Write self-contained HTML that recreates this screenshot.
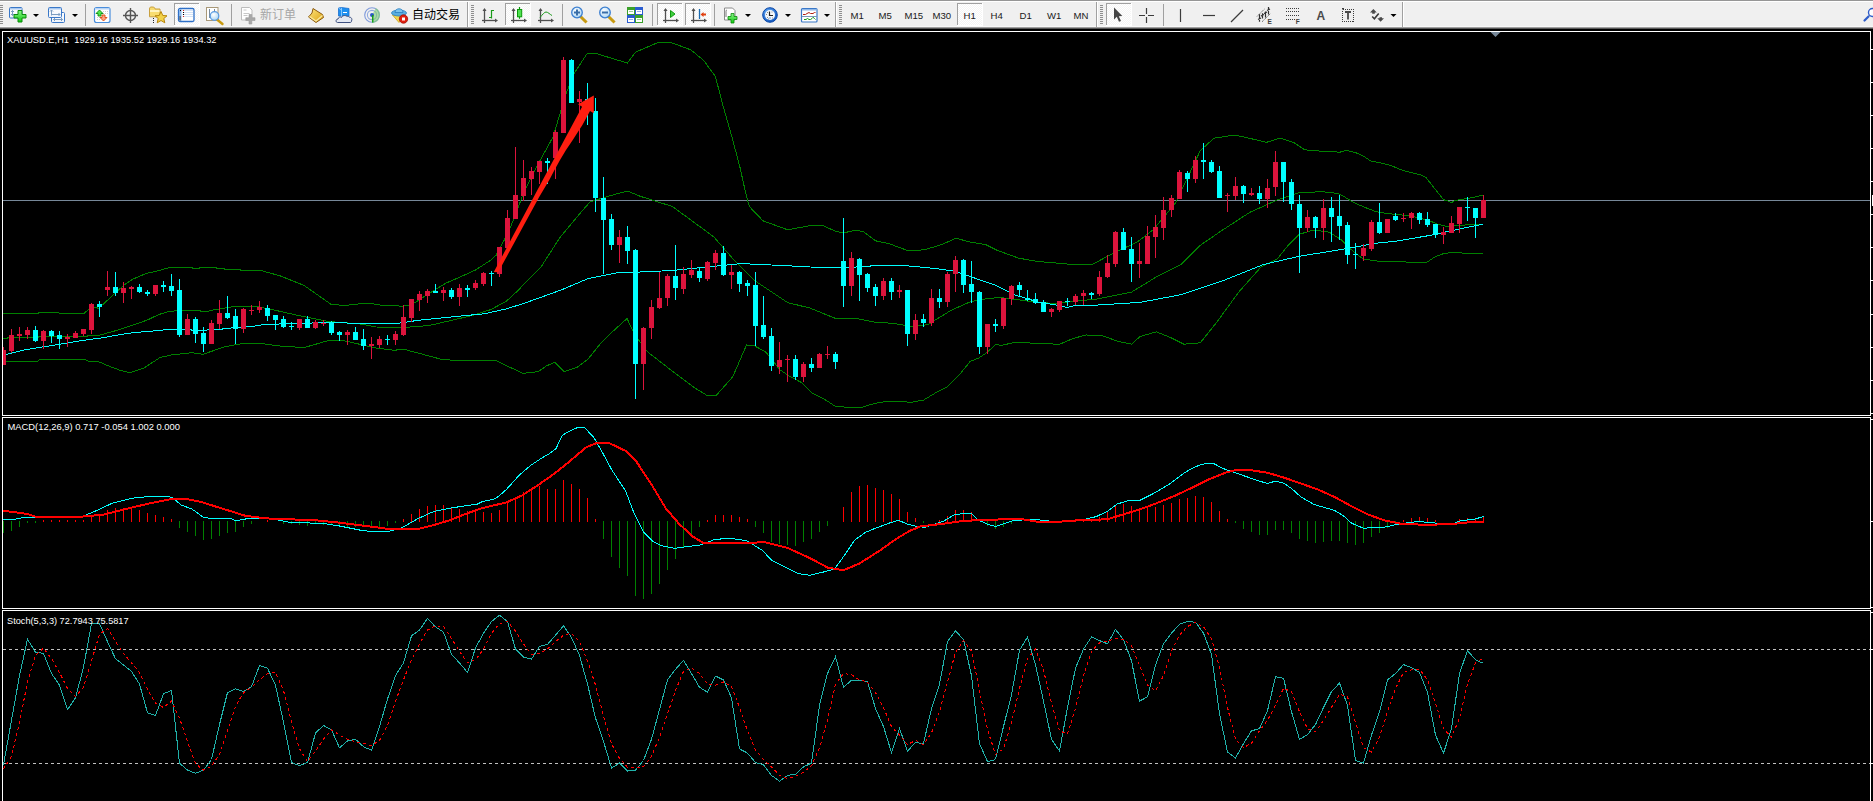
<!DOCTYPE html>
<html><head><meta charset="utf-8"><title>MT4</title>
<style>
html,body{margin:0;padding:0;background:#000;width:1873px;height:801px;overflow:hidden;position:relative}
#tb{position:absolute;left:0;top:0;width:1873px;height:29px;background:#F0F0F0;overflow:hidden}
</style></head><body>
<div id="tb"><svg width="1873" height="29" viewBox="0 0 1873 29" style="display:block">
<defs><pattern id="chk" width="2" height="2" patternUnits="userSpaceOnUse"><rect width="2" height="2" fill="#F4F4F4"/><rect width="1" height="1" fill="#FFFFFF"/><rect x="1" y="1" width="1" height="1" fill="#FFFFFF"/></pattern><linearGradient id="gplus" x1="0" y1="0" x2="0" y2="1"><stop offset="0" stop-color="#8BF58B"/><stop offset="1" stop-color="#10C810"/></linearGradient><linearGradient id="gwin" x1="0" y1="0" x2="0" y2="1"><stop offset="0" stop-color="#FFFFFF"/><stop offset="1" stop-color="#EEF3FA"/></linearGradient><linearGradient id="ggold" x1="0" y1="0" x2="1" y2="1"><stop offset="0" stop-color="#FFE680"/><stop offset="1" stop-color="#D9A010"/></linearGradient><radialGradient id="glens" cx="0.4" cy="0.35" r="0.7"><stop offset="0" stop-color="#FFFFFF"/><stop offset="1" stop-color="#A8D4F4"/></radialGradient><radialGradient id="gclock" cx="0.4" cy="0.35" r="0.7"><stop offset="0" stop-color="#6FB6FF"/><stop offset="1" stop-color="#0B4FB8"/></radialGradient></defs>
<rect width="1873" height="29" fill="#F0F0F0"/>
<rect y="0" width="1873" height="1" fill="#969696"/>
<rect y="1" width="1873" height="1" fill="#FFFFFF"/>
<rect y="26" width="1873" height="1" fill="#F8F8F8"/>
<rect y="27" width="1873" height="1" fill="#A0A0A0"/>
<rect y="28" width="1873" height="1" fill="#585858"/>
<rect x="0" y="5" width="3" height="1" fill="#8E8E8E"/>
<rect x="0" y="7" width="3" height="1" fill="#8E8E8E"/>
<rect x="0" y="9" width="3" height="1" fill="#8E8E8E"/>
<rect x="0" y="11" width="3" height="1" fill="#8E8E8E"/>
<rect x="0" y="13" width="3" height="1" fill="#8E8E8E"/>
<rect x="0" y="15" width="3" height="1" fill="#8E8E8E"/>
<rect x="0" y="17" width="3" height="1" fill="#8E8E8E"/>
<rect x="0" y="19" width="3" height="1" fill="#8E8E8E"/>
<rect x="0" y="21" width="3" height="1" fill="#8E8E8E"/>
<rect x="0" y="23" width="3" height="1" fill="#8E8E8E"/>
<rect x="9.5" y="7.5" width="12.5" height="10.5" rx="1" fill="url(#gwin)" stroke="#3A78C8" stroke-width="1"/>
<rect x="10" y="8" width="11.5" height="1.5" fill="#A8C8F0"/>
<path d="M12.5,10.5 V15.5 M11,12 L12.5,10.5 L14,12 M11,14 L12.5,15.5 L14,14" stroke="#7A9CC0" stroke-width="1" fill="none"/>
<path d="M18,10.5 h4 v4 h4 v3.5 h-4 v4 h-4 v-4 h-4 v-3.5 h4 z" fill="url(#gplus)" stroke="#0A8A0A" stroke-width="1"/>
<polygon points="33,14 39,14 36,17" fill="#000"/>
<rect x="51.5" y="12.5" width="13" height="10" rx="1" fill="url(#gwin)" stroke="#3A78C8"/>
<path d="M53.5,19.5 H62.5 M55,18 L53.5,19.5 L55,21 M61,18 L62.5,19.5 L61,21" stroke="#7A9CC0" fill="none"/>
<rect x="48.5" y="7.5" width="13" height="10" rx="1" fill="url(#gwin)" stroke="#3A78C8"/>
<rect x="49" y="8" width="12" height="1.5" fill="#A8C8F0"/>
<path d="M51.5,10 V15.5 M50,11.5 L51.5,10 L53,11.5 M51.5,14.5 H60 M58.5,13 L60,14.5 L58.5,16" stroke="#7A9CC0" fill="none"/>
<polygon points="72,14 78,14 75,17" fill="#000"/>
<rect x="85" y="4" width="1" height="22" fill="#A0A0A0"/>
<rect x="94.5" y="7.5" width="15.5" height="15" rx="2" fill="#FFFFFF" stroke="#4A8EDC" stroke-width="1.2"/>
<rect x="95" y="8" width="14.5" height="1.5" fill="#B8D4F4"/>
<path d="M103,11.5 H108 M103,13.5 H108 M97,17.5 H101 M97,19.5 H101" stroke="#D0D0D0" stroke-dasharray="1,1"/>
<path d="M99.5,10 L103,13.5 H101 V16 H98 V13.5 H96 Z" fill="#50E850" stroke="#0C8A0C" stroke-width="0.9"/>
<path d="M103.5,21 L107,17.5 H105 V15 H102 V17.5 H100 Z" fill="#FFA080" stroke="#D84A10" stroke-width="0.9"/>
<g stroke="#555" stroke-width="1.4" fill="none"><circle cx="130.5" cy="15.5" r="5"/><path d="M123,15.5 H138 M130.5,8 V23"/></g>
<path d="M149.5,9 C149.5,7 150.5,7 152,7 C154,7 155,7.5 155,9 h5 v7.8 h-10.5 z" fill="#F8DC70" stroke="#C8A040" stroke-width="1"/><rect x="150" y="10" width="9.5" height="2" fill="#FFF4C0"/>
<rect x="153" y="18" width="1" height="1" fill="#222"/><rect x="153" y="20" width="1" height="1" fill="#222"/><rect x="153" y="22" width="1" height="1" fill="#222"/>
<path d="M161,11.5 L162.8,15.5 L167,15.8 L163.8,18.5 L164.8,22.8 L161,20.5 L157.2,22.8 L158.2,18.5 L155,15.8 L159.2,15.5 Z" fill="#F2D24A" stroke="#B8860B" stroke-width="1"/>
<rect x="174" y="3" width="25" height="22" fill="url(#chk)"/>
<rect x="174" y="3" width="25" height="1" fill="#A0A0A0"/>
<rect x="174" y="3" width="1" height="22" fill="#A0A0A0"/>
<rect x="174" y="25" width="26" height="1" fill="#FFFFFF"/>
<rect x="199" y="3" width="1" height="22" fill="#FFFFFF"/>
<rect x="178.5" y="8.5" width="15.5" height="13" rx="1.5" fill="#FFFFFF" stroke="#2E70C8" stroke-width="1.3"/>
<rect x="179" y="9" width="2.5" height="12" fill="#8CB8EC"/><rect x="179.5" y="16" width="1.2" height="4.5" fill="#505050"/>
<path d="M182.5,10.5 H193 M182.5,12.5 H193 M182.5,14.5 H193 M182.5,16.5 H193" stroke="#C8DAF4" stroke-width="0.8"/>
<rect x="183" y="10" width="1" height="1" fill="#E02020"/><rect x="180" y="10" width="1" height="1" fill="#000"/><rect x="183" y="12" width="1" height="1" fill="#000"/><rect x="183" y="14" width="1" height="1" fill="#000"/><rect x="183" y="16" width="1" height="1" fill="#E02020"/>
<rect x="206.5" y="7.5" width="11.5" height="13" fill="#FFFFFF" stroke="#A89878" stroke-width="1"/>
<path d="M209.5,9 V18 M214.5,9 V12" stroke="#7A8A9A" stroke-width="1"/>
<path d="M217,19.5 L222.5,24" stroke="#C89A10" stroke-width="2.4" stroke-linecap="round"/>
<circle cx="214.5" cy="16" r="4.3" fill="url(#glens)" stroke="#5A9AE0" stroke-width="1.2"/>
<rect x="231" y="4" width="1" height="22" fill="#A0A0A0"/>
<path d="M241.5,7.5 h8 l2.5,2.5 v10 h-10.5 z" fill="#FFFFFF" stroke="#BDBDBD" stroke-width="1"/>
<path d="M243.5,10 h3 M243.5,13.5 h6 M243.5,15.5 h4" stroke="#C8C8C8" stroke-width="1"/>
<path d="M249,14.5 h2.8 v3.2 h3.2 v2.8 h-3.2 v3.5 h-2.8 v-3.5 h-3.2 v-2.8 h3.2 z" fill="#A8A8A8" stroke="#9A9A9A" stroke-width="0.6"/>
<text x="260" y="18.5" font-family="Liberation Sans, Noto Sans CJK SC, sans-serif" font-size="12" fill="#A6A6A6">新订单</text>
<path d="M313,8.5 L322.5,14.5 L323.5,17.5 L316,22.5 L308.5,17 L312,13 Z" fill="url(#ggold)" stroke="#8B5A10" stroke-width="1"/>
<path d="M309.5,16.5 L316,21 L322.5,15.5" stroke="#F8E8A0" stroke-width="1.2" fill="none"/>
<path d="M338.5,8 L341.5,7.5 L349,8.5 V16 H338.5 Z" fill="#1E90F0" stroke="#1A70D0" stroke-width="0.8"/><path d="M341.5,8 V16 M338.5,8 L341.5,10" stroke="#A0D4FF" stroke-width="0.8"/>
<path d="M343,12.5 h4" stroke="#FFFFFF" stroke-width="1"/>
<path d="M337.5,22.5 C335.5,22.5 335.5,19 338,19 C338.5,17 340.5,16.5 341.5,17.5 C342,15.5 345.5,14.8 347,16.5 C347.5,16.3 348.5,16.2 349,17 C351.5,16.8 352.5,19.5 351.5,21 C351.5,22 351,22.5 350,22.5 Z" fill="#E4E9F2" stroke="#3E5080" stroke-width="1"/>
<g fill="none" stroke-width="1.1"><circle cx="372" cy="15" r="7.3" stroke="#5A7ED4" opacity="0.75"/><circle cx="372" cy="15" r="4.6" stroke="#6A8CD8" opacity="0.7"/></g>
<path d="M372,15 L376,8.1 A8,8 0 0 1 372,23 Z" fill="#7CCB74" opacity="0.6"/>
<circle cx="372" cy="15" r="2" fill="#2A58C8"/>
<path d="M372.7,15 V22.5" stroke="#18A018" stroke-width="1.5" fill="none"/>
<path d="M392.5,15 L399,22.5 L405,15 Z" fill="#F4D84C" stroke="#C8A020" stroke-width="0.8"/>
<ellipse cx="399" cy="13" rx="7.5" ry="3" fill="#5AAEE0" stroke="#2A7EC0" stroke-width="0.8"/>
<path d="M395,12.5 C395,7.5 403,7.5 403,12.5 Z" fill="#7CC4EE" stroke="#2A7EC0" stroke-width="0.8"/>
<circle cx="403.5" cy="19" r="4.2" fill="#E02010" stroke="#A01008" stroke-width="0.8"/>
<rect x="402" y="17.5" width="3" height="3" fill="#FFFFFF"/>
<text x="412" y="18.5" font-family="Liberation Sans, Noto Sans CJK SC, sans-serif" font-size="12" fill="#000">自动交易</text>
<rect x="467" y="2" width="1" height="25" fill="#A0A0A0"/>
<rect x="468" y="2" width="1" height="25" fill="#FFFFFF"/>
<rect x="471" y="5" width="3" height="1" fill="#8E8E8E"/>
<rect x="471" y="7" width="3" height="1" fill="#8E8E8E"/>
<rect x="471" y="9" width="3" height="1" fill="#8E8E8E"/>
<rect x="471" y="11" width="3" height="1" fill="#8E8E8E"/>
<rect x="471" y="13" width="3" height="1" fill="#8E8E8E"/>
<rect x="471" y="15" width="3" height="1" fill="#8E8E8E"/>
<rect x="471" y="17" width="3" height="1" fill="#8E8E8E"/>
<rect x="471" y="19" width="3" height="1" fill="#8E8E8E"/>
<rect x="471" y="21" width="3" height="1" fill="#8E8E8E"/>
<rect x="471" y="23" width="3" height="1" fill="#8E8E8E"/>
<g stroke="#505050" stroke-width="1.3" fill="none"><path d="M484.5,23 V9"/><path d="M482,20.5 H496"/></g>
<path d="M482.5,11 L484.5,8 L486.5,11 Z" fill="#505050"/>
<path d="M495,18.5 L498,20.5 L495,22.5 Z" fill="#505050"/>
<path d="M491.5,10 V18.5 M491.5,10.5 H494 M489,17.5 H491.5" stroke="#1A9A1A" stroke-width="1.2" fill="none"/>
<rect x="505" y="3" width="25" height="22" fill="url(#chk)"/>
<rect x="505" y="3" width="25" height="1" fill="#A0A0A0"/>
<rect x="505" y="3" width="1" height="22" fill="#A0A0A0"/>
<rect x="505" y="25" width="26" height="1" fill="#FFFFFF"/>
<rect x="530" y="3" width="1" height="22" fill="#FFFFFF"/>
<g stroke="#505050" stroke-width="1.3" fill="none"><path d="M513.5,23 V9"/><path d="M511,20.5 H525"/></g>
<path d="M511.5,11 L513.5,8 L515.5,11 Z" fill="#505050"/>
<path d="M524,18.5 L527,20.5 L524,22.5 Z" fill="#505050"/>
<path d="M519.5,7 V18.8" stroke="#0A9A0A" stroke-width="1.2"/>
<rect x="517.5" y="9.5" width="4.2" height="7.3" fill="#50E050" stroke="#0A9A0A" stroke-width="1"/>
<g stroke="#505050" stroke-width="1.3" fill="none"><path d="M540.5,23 V9"/><path d="M538,20.5 H552"/></g>
<path d="M538.5,11 L540.5,8 L542.5,11 Z" fill="#505050"/>
<path d="M551,18.5 L554,20.5 L551,22.5 Z" fill="#505050"/>
<path d="M540,17.5 C542.5,14.5 544.5,12 546,12 C548,12 550,14.5 552,15.5" stroke="#1A9A1A" stroke-width="1" fill="none"/>
<rect x="562" y="4" width="1" height="22" fill="#A0A0A0"/>
<path d="M580.5,16.5 L585.5,21.5" stroke="#C89A10" stroke-width="3" stroke-linecap="square"/>
<circle cx="577" cy="12.5" r="5.3" fill="url(#glens)" stroke="#3C7FD0" stroke-width="1.3"/>
<path d="M574,12.5 H580 M577,9.5 V15.5" stroke="#3A6EA8" stroke-width="2"/>
<path d="M608.5,16.5 L613.5,21.5" stroke="#C89A10" stroke-width="3" stroke-linecap="square"/>
<circle cx="605" cy="12.5" r="5.3" fill="url(#glens)" stroke="#3C7FD0" stroke-width="1.3"/>
<rect x="602" y="11.5" width="6" height="2" fill="#3A6EA8"/>
<rect x="627" y="7" width="8" height="8" fill="#3AA02A"/>
<rect x="628" y="10" width="6" height="4" fill="#FFFFFF"/>
<rect x="629" y="11" width="4" height="1" fill="#3AA02A" opacity="0.5"/>
<rect x="635" y="7" width="8" height="8" fill="#2A5CD0"/>
<rect x="636" y="10" width="6" height="4" fill="#FFFFFF"/>
<rect x="637" y="11" width="4" height="1" fill="#2A5CD0" opacity="0.5"/>
<rect x="627" y="15" width="8" height="8" fill="#2A5CD0"/>
<rect x="628" y="18" width="6" height="4" fill="#FFFFFF"/>
<rect x="629" y="19" width="4" height="1" fill="#2A5CD0" opacity="0.5"/>
<rect x="635" y="15" width="8" height="8" fill="#3AA02A"/>
<rect x="636" y="18" width="6" height="4" fill="#FFFFFF"/>
<rect x="637" y="19" width="4" height="1" fill="#3AA02A" opacity="0.5"/>
<rect x="652" y="4" width="1" height="22" fill="#A0A0A0"/>
<rect x="657" y="3" width="25" height="22" fill="url(#chk)"/>
<rect x="657" y="3" width="25" height="1" fill="#A0A0A0"/>
<rect x="657" y="3" width="1" height="22" fill="#A0A0A0"/>
<rect x="657" y="25" width="26" height="1" fill="#FFFFFF"/>
<rect x="682" y="3" width="1" height="22" fill="#FFFFFF"/>
<g stroke="#505050" stroke-width="1.3" fill="none"><path d="M665.5,23 V9"/><path d="M663,20.5 H677"/></g>
<path d="M663.5,11 L665.5,8 L667.5,11 Z" fill="#505050"/>
<path d="M676,18.5 L679,20.5 L676,22.5 Z" fill="#505050"/>
<path d="M670.5,10.5 V17.5 L675,14 Z" fill="#40D040" stroke="#109A10" stroke-width="1"/>
<rect x="685" y="3" width="25" height="22" fill="url(#chk)"/>
<rect x="685" y="3" width="25" height="1" fill="#A0A0A0"/>
<rect x="685" y="3" width="1" height="22" fill="#A0A0A0"/>
<rect x="685" y="25" width="26" height="1" fill="#FFFFFF"/>
<rect x="710" y="3" width="1" height="22" fill="#FFFFFF"/>
<g stroke="#505050" stroke-width="1.3" fill="none"><path d="M693.5,23 V9"/><path d="M691,20.5 H705"/></g>
<path d="M691.5,11 L693.5,8 L695.5,11 Z" fill="#505050"/>
<path d="M704,18.5 L707,20.5 L704,22.5 Z" fill="#505050"/>
<path d="M699.5,9 V19" stroke="#1A6AB0" stroke-width="1.3"/>
<path d="M700.5,14.5 L703.5,12 V13.5 H706 V15.5 H703.5 V17 Z" fill="#E04010"/>
<rect x="714" y="4" width="1" height="22" fill="#A0A0A0"/>
<path d="M724.5,8 h8 l2.5,2.5 v9.5 h-10.5 z" fill="#FFFFFF" stroke="#8A8A8A" stroke-width="1"/>
<path d="M727,10 c-1,0 -1,1 -1,2 v5" stroke="#555" stroke-width="0.8" fill="none"/>
<path d="M731,13.5 h3 v3 h3 v3 h-3 v3.5 h-3 v-3.5 h-3 v-3 h3 z" fill="url(#gplus)" stroke="#0A8A0A" stroke-width="0.8"/>
<polygon points="745,14 751,14 748,17" fill="#000"/>
<circle cx="770" cy="15" r="7.3" fill="url(#gclock)" stroke="#0A48A8" stroke-width="1"/>
<circle cx="770" cy="15" r="5" fill="#F4F8FC"/>
<path d="M769.5,11.5 V15.5 H773" stroke="#202020" stroke-width="1.2" fill="none"/>
<g fill="#909090"><rect x="766" y="14" width="1" height="1"/><rect x="767" y="17" width="1" height="1"/><rect x="768" y="18.5" width="1" height="1"/><rect x="772" y="17.5" width="1" height="1"/><rect x="771.5" y="11.5" width="1" height="1"/><rect x="767" y="12" width="1" height="1"/></g><rect x="769" y="17.5" width="2" height="1" fill="#6AA0E8"/>
<polygon points="785,14 791,14 788,17" fill="#000"/>
<rect x="801.5" y="8.5" width="15.5" height="13.5" rx="1" fill="#FFFFFF" stroke="#3A78C8" stroke-width="1.2"/>
<rect x="802" y="9" width="14.5" height="1.5" fill="#90B8E8"/>
<path d="M802,16.5 H817" stroke="#7A98B8" stroke-width="1"/>
<path d="M803,14.5 H805.5 L807,13.5 L809,12.5 L810.5,13.5 H813 L814.5,12.5 H815.5" stroke="#B02010" stroke-width="1" fill="none"/>
<path d="M804,19.5 H806 L807.5,18.5 L809,19.5 H810.5 L812,18.5 L813,17.3 L814.5,18.5 L815.5,19.5" stroke="#1A9A1A" stroke-width="1" fill="none"/>
<polygon points="824,14 830,14 827,17" fill="#000"/>
<rect x="835" y="2" width="1" height="25" fill="#A0A0A0"/>
<rect x="836" y="2" width="1" height="25" fill="#FFFFFF"/>
<rect x="839" y="5" width="3" height="1" fill="#8E8E8E"/>
<rect x="839" y="7" width="3" height="1" fill="#8E8E8E"/>
<rect x="839" y="9" width="3" height="1" fill="#8E8E8E"/>
<rect x="839" y="11" width="3" height="1" fill="#8E8E8E"/>
<rect x="839" y="13" width="3" height="1" fill="#8E8E8E"/>
<rect x="839" y="15" width="3" height="1" fill="#8E8E8E"/>
<rect x="839" y="17" width="3" height="1" fill="#8E8E8E"/>
<rect x="839" y="19" width="3" height="1" fill="#8E8E8E"/>
<rect x="839" y="21" width="3" height="1" fill="#8E8E8E"/>
<rect x="839" y="23" width="3" height="1" fill="#8E8E8E"/>
<text x="850.5" y="19.3" font-family="Liberation Sans, DejaVu Sans, sans-serif" font-size="9.6" fill="#1A1A1A">M1</text>
<text x="878.5" y="19.3" font-family="Liberation Sans, DejaVu Sans, sans-serif" font-size="9.6" fill="#1A1A1A">M5</text>
<text x="904.5" y="19.3" font-family="Liberation Sans, DejaVu Sans, sans-serif" font-size="9.6" fill="#1A1A1A">M15</text>
<text x="932.5" y="19.3" font-family="Liberation Sans, DejaVu Sans, sans-serif" font-size="9.6" fill="#1A1A1A">M30</text>
<rect x="957" y="3" width="25" height="22" fill="url(#chk)"/>
<rect x="957" y="3" width="25" height="1" fill="#A0A0A0"/>
<rect x="957" y="3" width="1" height="22" fill="#A0A0A0"/>
<rect x="957" y="25" width="26" height="1" fill="#FFFFFF"/>
<rect x="982" y="3" width="1" height="22" fill="#FFFFFF"/>
<text x="963.5" y="19.3" font-family="Liberation Sans, DejaVu Sans, sans-serif" font-size="9.6" fill="#1A1A1A">H1</text>
<text x="990.5" y="19.3" font-family="Liberation Sans, DejaVu Sans, sans-serif" font-size="9.6" fill="#1A1A1A">H4</text>
<text x="1019.5" y="19.3" font-family="Liberation Sans, DejaVu Sans, sans-serif" font-size="9.6" fill="#1A1A1A">D1</text>
<text x="1047" y="19.3" font-family="Liberation Sans, DejaVu Sans, sans-serif" font-size="9.6" fill="#1A1A1A">W1</text>
<text x="1073.5" y="19.3" font-family="Liberation Sans, DejaVu Sans, sans-serif" font-size="9.6" fill="#1A1A1A">MN</text>
<rect x="1096" y="2" width="1" height="25" fill="#A0A0A0"/>
<rect x="1097" y="2" width="1" height="25" fill="#FFFFFF"/>
<rect x="1100" y="5" width="3" height="1" fill="#8E8E8E"/>
<rect x="1100" y="7" width="3" height="1" fill="#8E8E8E"/>
<rect x="1100" y="9" width="3" height="1" fill="#8E8E8E"/>
<rect x="1100" y="11" width="3" height="1" fill="#8E8E8E"/>
<rect x="1100" y="13" width="3" height="1" fill="#8E8E8E"/>
<rect x="1100" y="15" width="3" height="1" fill="#8E8E8E"/>
<rect x="1100" y="17" width="3" height="1" fill="#8E8E8E"/>
<rect x="1100" y="19" width="3" height="1" fill="#8E8E8E"/>
<rect x="1100" y="21" width="3" height="1" fill="#8E8E8E"/>
<rect x="1100" y="23" width="3" height="1" fill="#8E8E8E"/>
<rect x="1106" y="3" width="25" height="22" fill="url(#chk)"/>
<rect x="1106" y="3" width="25" height="1" fill="#A0A0A0"/>
<rect x="1106" y="3" width="1" height="22" fill="#A0A0A0"/>
<rect x="1106" y="25" width="26" height="1" fill="#FFFFFF"/>
<rect x="1131" y="3" width="1" height="22" fill="#FFFFFF"/>
<path d="M1114,7.5 V19.5 L1116.8,16.8 L1119,21.8 L1121,21 L1118.8,16.2 L1122.3,16 Z" fill="#454545"/>
<path d="M1139,15.5 H1145 M1148,15.5 H1154 M1146.5,8 V14 M1146.5,17 V23" stroke="#3C3C3C" stroke-width="1.2"/>
<rect x="1163" y="4" width="1" height="22" fill="#A0A0A0"/>
<path d="M1180.5,9 V22" stroke="#3C3C3C" stroke-width="1.2"/>
<path d="M1203,15.5 H1215" stroke="#3C3C3C" stroke-width="1.2"/>
<path d="M1231,22 L1243,10" stroke="#3C3C3C" stroke-width="1.2"/>
<path d="M1257,16.5 L1264.5,9 M1262,21.8 L1270.5,13.5" stroke="#6A6A6A" stroke-width="1" stroke-dasharray="1.4,0.6" fill="none"/>
<path d="M1259.5,14.2 V21.8 M1262.5,13.2 V18.5 M1265.5,11.5 V17.5 M1268.5,7 V14.5 M1258,19.5 L1261,18 M1261,16 L1264,14.5 M1264,13.5 L1267,12 M1267,10.5 L1270,9" stroke="#303030" stroke-width="1.2" fill="none"/>
<text x="1267.5" y="24" font-family="Liberation Sans, sans-serif" font-size="6.5" font-weight="bold" fill="#3C3C3C">E</text>
<path d="M1286,8.5 H1299 M1286,11.5 H1299 M1286,15.5 H1299 M1286,19.5 H1295" stroke="#3C3C3C" stroke-width="1" stroke-dasharray="1,1"/>
<text x="1295.8" y="24" font-family="Liberation Sans, sans-serif" font-size="6.5" font-weight="bold" fill="#3C3C3C">F</text>
<text x="1316.5" y="20" font-family="Liberation Sans, sans-serif" font-size="12" font-weight="bold" fill="#4A4A4A">A</text>
<rect x="1342.5" y="9.5" width="11" height="12" fill="none" stroke="#3C3C3C" stroke-width="1" stroke-dasharray="1,1" shape-rendering="crispEdges"/>
<rect x="1342" y="8" width="2" height="1.5" fill="#3C3C3C"/>
<path d="M1345,12 H1351 M1348,12 V19.5" stroke="#4A4A4A" stroke-width="1.8"/>
<path d="M1373.4,9 L1376.8,12.5 H1374.8 V13.8 H1372.2 V12.5 H1370 Z M1380.6,21.8 L1384,18.3 H1382 V17.2 H1379.5 V18.3 H1377.3 Z" fill="#4A4A4A"/>
<path d="M1372.2,16.5 L1374.4,18.8 L1378.7,13.5" stroke="#3A3A3A" stroke-width="1.6" fill="none"/>
<polygon points="1390.5,14 1396.5,14 1393.5,17" fill="#000"/>
<rect x="1402" y="2" width="1" height="25" fill="#A0A0A0"/>
<rect x="1403" y="2" width="1" height="25" fill="#FFFFFF"/>
<path d="M1864.5,20.5 L1868.5,16.5" stroke="#2E5CC8" stroke-width="2.2" stroke-linecap="round"/>
<circle cx="1872.5" cy="12.5" r="4" fill="#FFFFFF" stroke="#2E5CC8" stroke-width="1.4"/>
</svg></div>
<svg id="ch" width="1873" height="772" viewBox="0 29 1873 772" style="position:absolute;left:0;top:29px;display:block">
<rect x="0" y="29" width="1873" height="772" fill="#000"/>
<g shape-rendering="crispEdges">
<rect x="3" y="200" width="1867" height="1" fill="#778899"/>
</g>
<polyline points="3.0,313.3 38.0,313.3 40.0,312.0 56.0,312.0 60.0,313.3 84.0,313.3 88.0,310.0 93.4,307.2 99.0,308.3 102.0,305.3 124.2,284.8 132.7,279.2 145.5,273.7 158.3,270.7 169.4,267.5 191.7,267.5 193.0,268.5 199.0,268.5 200.0,267.5 216.0,267.5 217.0,268.5 224.0,268.5 225.0,269.5 240.0,269.6 241.0,270.4 250.0,270.4 261.0,270.5 280.0,275.8 304.0,285.4 320.0,296.6 331.0,304.3 344.0,305.5 368.0,303.0 380.0,305.0 395.0,305.6 401.7,306.3 408.5,305.2 415.2,302.4 431.0,292.3 445.6,283.3 462.4,276.0 475.9,269.8 490.5,260.3 496.1,255.2 500.6,246.8 505.1,238.4 511.0,226.0 519.0,205.0 524.0,192.4 537.0,166.0 553.0,137.0 565.8,94.4 574.3,73.2 587.0,53.7 597.6,54.0 627.3,63.0 635.8,52.0 657.0,42.9 672.0,42.9 691.0,49.9 703.7,60.5 715.4,76.4 722.8,105.0 731.3,134.7 739.8,166.6 745.0,190.0 749.3,206.5 763.0,220.8 787.7,229.8 809.7,225.7 823.4,225.7 835.0,231.1 842.7,233.0 856.3,230.2 864.0,232.0 875.6,240.8 889.2,243.7 907.5,250.5 924.0,249.9 941.4,244.7 956.0,238.3 970.4,242.1 985.9,244.7 997.5,250.5 1018.8,258.2 1038.0,261.5 1067.2,264.0 1093.2,264.0 1112.5,253.6 1137.2,242.0 1153.6,229.4 1175.6,202.8 1189.3,173.9 1200.3,150.6 1214.0,138.2 1234.6,135.0 1255.2,139.6 1266.2,142.4 1280.0,138.2 1293.7,142.4 1304.7,149.8 1323.9,151.4 1335.7,151.4 1338.7,152.5 1345.7,150.6 1350.1,151.2 1355.3,152.5 1363.2,156.0 1371.1,161.2 1379.0,162.5 1391.2,165.6 1402.6,170.4 1414.8,173.5 1420.9,174.8 1426.2,177.8 1433.1,186.6 1439.3,194.4 1443.6,199.7 1448.9,201.4 1451.5,202.5 1455.0,200.6 1461.1,199.5 1469.9,198.1 1478.6,196.2 1483.0,195.1" stroke="#008000" fill="none" stroke-width="1" stroke-linejoin="miter" shape-rendering="crispEdges"/>
<polyline points="3.0,338.5 7.0,338.5 8.0,337.5 38.0,337.5 39.0,336.5 87.0,336.5 88.0,335.5 100.0,335.0 120.0,329.5 148.0,319.8 158.3,314.7 169.4,311.3 182.3,310.4 199.3,310.4 201.0,311.3 208.0,311.3 214.7,309.6 223.3,308.3 231.0,307.0 240.4,306.2 250.0,306.5 259.0,307.0 272.0,309.5 296.0,315.0 328.0,321.5 360.0,323.9 376.0,327.0 400.8,327.6 421.6,326.2 432.0,324.9 451.2,320.4 471.4,315.7 490.5,309.7 506.2,301.3 518.6,290.0 525.0,282.8 541.0,267.0 560.0,237.4 578.6,215.0 590.0,202.0 608.5,196.2 627.3,191.0 640.0,196.2 672.4,206.5 713.6,236.7 732.8,258.6 754.7,280.6 787.7,302.6 809.7,308.0 837.0,319.0 858.2,318.8 873.7,322.0 893.0,323.4 912.4,326.5 927.9,324.6 951.0,310.4 970.4,301.7 985.9,298.8 999.4,297.5 1018.8,299.8 1038.0,302.7 1057.5,303.3 1076.8,300.8 1095.0,299.4 1107.0,297.0 1131.7,292.0 1156.4,276.9 1181.0,264.5 1200.3,245.3 1222.3,230.2 1249.7,212.4 1277.2,200.0 1299.2,192.6 1321.0,191.8 1330.0,192.3 1337.9,193.6 1343.1,196.0 1350.1,200.4 1358.0,204.5 1362.8,206.5 1375.9,211.7 1389.0,213.7 1402.0,215.0 1415.2,217.0 1428.3,220.2 1437.5,224.2 1448.0,226.8 1454.5,226.0 1467.6,224.8 1482.7,224.2" stroke="#008000" fill="none" stroke-width="1" stroke-linejoin="miter" shape-rendering="crispEdges"/>
<polyline points="3.0,362.0 37.0,361.6 40.0,359.0 84.0,359.0 90.0,362.0 97.0,361.0 108.0,365.7 120.0,370.3 130.0,372.7 144.0,368.0 160.0,357.5 171.0,355.0 192.0,352.7 203.0,354.3 224.0,347.0 245.0,343.0 264.0,343.9 280.0,346.0 304.0,347.6 328.0,340.7 344.0,340.7 376.0,348.0 393.9,350.3 403.6,349.2 421.6,354.0 442.5,359.6 456.3,360.3 480.0,361.0 488.3,360.3 496.6,361.0 523.0,373.4 538.2,371.6 546.6,365.8 554.9,362.3 563.9,371.6 577.1,367.2 588.2,358.9 599.3,345.0 613.2,331.1 627.0,318.5 635.3,335.5 647.7,352.0 672.4,371.2 694.3,387.7 708.0,396.0 716.3,395.4 732.8,376.7 746.5,345.0 754.7,346.0 765.7,352.0 780.0,369.9 789.8,376.4 800.9,382.2 812.5,393.2 826.7,400.6 835.3,406.4 848.8,407.4 862.3,407.1 874.6,403.4 888.0,401.2 902.8,401.2 910.2,402.5 923.7,400.0 936.0,392.6 947.0,387.1 959.3,374.8 970.3,361.3 978.9,358.0 987.5,352.1 995.5,344.5 1001.0,345.4 1015.0,342.4 1038.0,343.3 1059.4,344.3 1073.0,338.5 1086.0,335.0 1101.5,335.4 1118.0,341.4 1131.7,344.2 1140.0,336.5 1156.4,331.8 1170.0,337.3 1183.8,344.2 1200.3,342.8 1216.8,322.2 1238.8,292.0 1260.7,267.3 1277.2,259.0 1288.2,245.3 1299.2,234.3 1313.0,230.2 1326.6,231.6 1330.0,232.7 1340.5,239.2 1349.7,248.4 1362.8,258.9 1382.4,261.8 1427.0,262.2 1434.9,257.0 1444.0,253.4 1454.5,252.3 1467.6,253.6 1482.7,253.4" stroke="#008000" fill="none" stroke-width="1" stroke-linejoin="miter" shape-rendering="crispEdges"/>
<polyline points="3.0,355.0 6.0,354.5 24.4,350.0 40.6,347.2 56.8,344.8 73.0,342.0 89.0,339.5 100.0,338.2 120.0,334.6 135.0,332.5 151.0,331.2 167.0,329.6 190.6,329.5 192.3,330.5 206.8,330.5 207.7,329.5 222.0,329.5 223.0,328.5 230.8,328.5 231.6,327.5 245.3,327.5 247.0,326.5 254.0,326.5 255.6,325.5 264.0,324.7 288.0,323.6 328.0,322.6 376.0,323.6 395.0,323.8 417.5,320.4 451.2,317.0 484.9,313.7 507.4,308.6 525.0,303.0 561.7,289.8 588.0,278.6 616.0,273.0 640.0,272.0 672.4,270.5 713.6,266.3 741.0,263.6 782.2,265.5 823.4,267.7 850.0,267.4 879.5,265.4 902.7,265.4 935.6,268.5 955.0,271.2 970.4,276.6 995.6,285.3 1015.0,295.0 1038.0,302.0 1057.5,305.2 1067.0,307.5 1076.8,305.2 1095.0,305.2 1140.0,302.4 1181.0,294.7 1222.3,281.0 1263.5,264.5 1299.2,256.3 1345.0,248.9 1375.9,243.2 1395.5,241.2 1415.2,237.9 1434.9,234.6 1448.0,231.4 1461.0,228.7 1482.7,224.2" stroke="#00FFFF" fill="none" stroke-width="1" stroke-linejoin="miter" shape-rendering="crispEdges"/>
<g shape-rendering="crispEdges">
<rect x="3" y="347" width="1" height="18" fill="#DC143C"/>
<rect x="3" y="350" width="3" height="15" fill="#DC143C"/>
<rect x="11" y="329" width="1" height="24" fill="#DC143C"/>
<rect x="9" y="335" width="5" height="16" fill="#DC143C"/>
<rect x="19" y="327" width="1" height="14" fill="#DC143C"/>
<rect x="17" y="334" width="5" height="2" fill="#DC143C"/>
<rect x="27" y="327" width="1" height="12" fill="#DC143C"/>
<rect x="25" y="330" width="5" height="5" fill="#DC143C"/>
<rect x="35" y="326" width="1" height="16" fill="#00FFFF"/>
<rect x="33" y="330" width="5" height="11" fill="#00FFFF"/>
<rect x="43" y="330" width="1" height="19" fill="#DC143C"/>
<rect x="41" y="331" width="5" height="10" fill="#DC143C"/>
<rect x="51" y="330" width="1" height="13" fill="#00FFFF"/>
<rect x="49" y="331" width="5" height="5" fill="#00FFFF"/>
<rect x="59" y="331" width="1" height="18" fill="#00FFFF"/>
<rect x="57" y="335" width="5" height="4" fill="#00FFFF"/>
<rect x="67" y="334" width="1" height="13" fill="#DC143C"/>
<rect x="65" y="337" width="5" height="2" fill="#DC143C"/>
<rect x="75" y="331" width="1" height="7" fill="#DC143C"/>
<rect x="73" y="333" width="5" height="5" fill="#DC143C"/>
<rect x="83" y="329" width="1" height="7" fill="#DC143C"/>
<rect x="81" y="329" width="5" height="5" fill="#DC143C"/>
<rect x="91" y="303" width="1" height="31" fill="#DC143C"/>
<rect x="89" y="304" width="5" height="26" fill="#DC143C"/>
<rect x="99" y="301" width="1" height="16" fill="#00FFFF"/>
<rect x="97" y="304" width="5" height="3" fill="#00FFFF"/>
<rect x="107" y="271" width="1" height="25" fill="#DC143C"/>
<rect x="105" y="287" width="5" height="3" fill="#DC143C"/>
<rect x="115" y="272" width="1" height="24" fill="#00FFFF"/>
<rect x="113" y="287" width="5" height="6" fill="#00FFFF"/>
<rect x="123" y="282" width="1" height="21" fill="#DC143C"/>
<rect x="121" y="288" width="5" height="5" fill="#DC143C"/>
<rect x="131" y="286" width="1" height="13" fill="#DC143C"/>
<rect x="129" y="287" width="5" height="2" fill="#DC143C"/>
<rect x="139" y="284" width="1" height="9" fill="#00FFFF"/>
<rect x="137" y="287" width="5" height="5" fill="#00FFFF"/>
<rect x="147" y="290" width="1" height="6" fill="#00FFFF"/>
<rect x="145" y="292" width="5" height="2" fill="#00FFFF"/>
<rect x="155" y="285" width="1" height="11" fill="#DC143C"/>
<rect x="153" y="285" width="5" height="9" fill="#DC143C"/>
<rect x="163" y="281" width="1" height="11" fill="#00FFFF"/>
<rect x="161" y="285" width="5" height="2" fill="#00FFFF"/>
<rect x="171" y="274" width="1" height="22" fill="#00FFFF"/>
<rect x="169" y="286" width="5" height="5" fill="#00FFFF"/>
<rect x="179" y="279" width="1" height="58" fill="#00FFFF"/>
<rect x="177" y="290" width="5" height="45" fill="#00FFFF"/>
<rect x="187" y="314" width="1" height="21" fill="#DC143C"/>
<rect x="185" y="319" width="5" height="16" fill="#DC143C"/>
<rect x="195" y="317" width="1" height="26" fill="#00FFFF"/>
<rect x="193" y="319" width="5" height="15" fill="#00FFFF"/>
<rect x="203" y="327" width="1" height="25" fill="#00FFFF"/>
<rect x="201" y="333" width="5" height="11" fill="#00FFFF"/>
<rect x="211" y="320" width="1" height="24" fill="#DC143C"/>
<rect x="209" y="323" width="5" height="21" fill="#DC143C"/>
<rect x="219" y="300" width="1" height="29" fill="#DC143C"/>
<rect x="217" y="313" width="5" height="11" fill="#DC143C"/>
<rect x="227" y="296" width="1" height="23" fill="#00FFFF"/>
<rect x="225" y="313" width="5" height="5" fill="#00FFFF"/>
<rect x="235" y="309" width="1" height="35" fill="#00FFFF"/>
<rect x="233" y="316" width="5" height="13" fill="#00FFFF"/>
<rect x="243" y="308" width="1" height="25" fill="#DC143C"/>
<rect x="241" y="309" width="5" height="20" fill="#DC143C"/>
<rect x="251" y="305" width="1" height="10" fill="#DC143C"/>
<rect x="249" y="310" width="5" height="1" fill="#DC143C"/>
<rect x="259" y="301" width="1" height="12" fill="#DC143C"/>
<rect x="257" y="307" width="5" height="3" fill="#DC143C"/>
<rect x="267" y="305" width="1" height="16" fill="#00FFFF"/>
<rect x="265" y="308" width="5" height="8" fill="#00FFFF"/>
<rect x="275" y="315" width="1" height="15" fill="#00FFFF"/>
<rect x="273" y="315" width="5" height="5" fill="#00FFFF"/>
<rect x="283" y="316" width="1" height="12" fill="#00FFFF"/>
<rect x="281" y="319" width="5" height="8" fill="#00FFFF"/>
<rect x="291" y="322" width="1" height="8" fill="#00FFFF"/>
<rect x="289" y="326" width="5" height="1" fill="#00FFFF"/>
<rect x="299" y="319" width="1" height="11" fill="#DC143C"/>
<rect x="297" y="319" width="5" height="9" fill="#DC143C"/>
<rect x="307" y="316" width="1" height="12" fill="#00FFFF"/>
<rect x="305" y="319" width="5" height="9" fill="#00FFFF"/>
<rect x="315" y="320" width="1" height="9" fill="#DC143C"/>
<rect x="313" y="322" width="5" height="6" fill="#DC143C"/>
<rect x="323" y="320" width="1" height="6" fill="#DC143C"/>
<rect x="321" y="323" width="5" height="1" fill="#DC143C"/>
<rect x="331" y="321" width="1" height="14" fill="#00FFFF"/>
<rect x="329" y="322" width="5" height="11" fill="#00FFFF"/>
<rect x="339" y="331" width="1" height="10" fill="#00FFFF"/>
<rect x="337" y="332" width="5" height="3" fill="#00FFFF"/>
<rect x="347" y="330" width="1" height="15" fill="#DC143C"/>
<rect x="345" y="332" width="5" height="3" fill="#DC143C"/>
<rect x="355" y="327" width="1" height="13" fill="#00FFFF"/>
<rect x="353" y="332" width="5" height="8" fill="#00FFFF"/>
<rect x="363" y="329" width="1" height="21" fill="#00FFFF"/>
<rect x="361" y="339" width="5" height="7" fill="#00FFFF"/>
<rect x="371" y="337" width="1" height="22" fill="#DC143C"/>
<rect x="369" y="344" width="5" height="2" fill="#DC143C"/>
<rect x="379" y="336" width="1" height="12" fill="#DC143C"/>
<rect x="377" y="339" width="5" height="6" fill="#DC143C"/>
<rect x="387" y="335" width="1" height="10" fill="#00FFFF"/>
<rect x="385" y="339" width="5" height="1" fill="#00FFFF"/>
<rect x="395" y="331" width="1" height="14" fill="#DC143C"/>
<rect x="393" y="334" width="5" height="6" fill="#DC143C"/>
<rect x="403" y="305" width="1" height="31" fill="#DC143C"/>
<rect x="401" y="317" width="5" height="18" fill="#DC143C"/>
<rect x="411" y="299" width="1" height="23" fill="#DC143C"/>
<rect x="409" y="299" width="5" height="19" fill="#DC143C"/>
<rect x="419" y="291" width="1" height="20" fill="#DC143C"/>
<rect x="417" y="294" width="5" height="6" fill="#DC143C"/>
<rect x="427" y="289" width="1" height="14" fill="#DC143C"/>
<rect x="425" y="291" width="5" height="5" fill="#DC143C"/>
<rect x="435" y="284" width="1" height="9" fill="#00FFFF"/>
<rect x="433" y="291" width="5" height="2" fill="#00FFFF"/>
<rect x="443" y="287" width="1" height="14" fill="#DC143C"/>
<rect x="441" y="290" width="5" height="3" fill="#DC143C"/>
<rect x="451" y="288" width="1" height="11" fill="#00FFFF"/>
<rect x="449" y="290" width="5" height="7" fill="#00FFFF"/>
<rect x="459" y="284" width="1" height="22" fill="#DC143C"/>
<rect x="457" y="288" width="5" height="9" fill="#DC143C"/>
<rect x="467" y="285" width="1" height="12" fill="#00FFFF"/>
<rect x="465" y="288" width="5" height="2" fill="#00FFFF"/>
<rect x="475" y="280" width="1" height="10" fill="#DC143C"/>
<rect x="473" y="283" width="5" height="5" fill="#DC143C"/>
<rect x="483" y="272" width="1" height="14" fill="#DC143C"/>
<rect x="481" y="273" width="5" height="11" fill="#DC143C"/>
<rect x="491" y="271" width="1" height="15" fill="#00FFFF"/>
<rect x="489" y="273" width="5" height="1" fill="#00FFFF"/>
<rect x="499" y="247" width="1" height="30" fill="#DC143C"/>
<rect x="497" y="247" width="5" height="27" fill="#DC143C"/>
<rect x="507" y="210" width="1" height="38" fill="#DC143C"/>
<rect x="505" y="218" width="5" height="30" fill="#DC143C"/>
<rect x="515" y="147" width="1" height="72" fill="#DC143C"/>
<rect x="513" y="195" width="5" height="24" fill="#DC143C"/>
<rect x="523" y="160" width="1" height="41" fill="#DC143C"/>
<rect x="521" y="178" width="5" height="18" fill="#DC143C"/>
<rect x="531" y="167" width="1" height="28" fill="#DC143C"/>
<rect x="529" y="171" width="5" height="8" fill="#DC143C"/>
<rect x="539" y="161" width="1" height="23" fill="#DC143C"/>
<rect x="537" y="161" width="5" height="11" fill="#DC143C"/>
<rect x="547" y="158" width="1" height="26" fill="#00FFFF"/>
<rect x="545" y="161" width="5" height="2" fill="#00FFFF"/>
<rect x="555" y="130" width="1" height="49" fill="#DC143C"/>
<rect x="553" y="132" width="5" height="26" fill="#DC143C"/>
<rect x="563" y="57" width="1" height="76" fill="#DC143C"/>
<rect x="561" y="60" width="5" height="73" fill="#DC143C"/>
<rect x="571" y="59" width="1" height="44" fill="#00FFFF"/>
<rect x="569" y="60" width="5" height="43" fill="#00FFFF"/>
<rect x="579" y="91" width="1" height="52" fill="#DC143C"/>
<rect x="577" y="99" width="5" height="3" fill="#DC143C"/>
<rect x="587" y="83" width="1" height="42" fill="#00FFFF"/>
<rect x="585" y="99" width="5" height="2" fill="#00FFFF"/>
<rect x="595" y="98" width="1" height="114" fill="#00FFFF"/>
<rect x="593" y="111" width="5" height="87" fill="#00FFFF"/>
<rect x="603" y="177" width="1" height="97" fill="#00FFFF"/>
<rect x="601" y="198" width="5" height="22" fill="#00FFFF"/>
<rect x="611" y="214" width="1" height="36" fill="#00FFFF"/>
<rect x="609" y="219" width="5" height="26" fill="#00FFFF"/>
<rect x="619" y="230" width="1" height="33" fill="#DC143C"/>
<rect x="617" y="237" width="5" height="8" fill="#DC143C"/>
<rect x="627" y="226" width="1" height="38" fill="#00FFFF"/>
<rect x="625" y="237" width="5" height="14" fill="#00FFFF"/>
<rect x="635" y="249" width="1" height="150" fill="#00FFFF"/>
<rect x="633" y="250" width="5" height="114" fill="#00FFFF"/>
<rect x="643" y="327" width="1" height="63" fill="#DC143C"/>
<rect x="641" y="328" width="5" height="36" fill="#DC143C"/>
<rect x="651" y="300" width="1" height="39" fill="#DC143C"/>
<rect x="649" y="307" width="5" height="21" fill="#DC143C"/>
<rect x="659" y="272" width="1" height="37" fill="#DC143C"/>
<rect x="657" y="298" width="5" height="10" fill="#DC143C"/>
<rect x="667" y="274" width="1" height="32" fill="#DC143C"/>
<rect x="665" y="276" width="5" height="22" fill="#DC143C"/>
<rect x="675" y="245" width="1" height="55" fill="#00FFFF"/>
<rect x="673" y="276" width="5" height="12" fill="#00FFFF"/>
<rect x="683" y="267" width="1" height="27" fill="#DC143C"/>
<rect x="681" y="274" width="5" height="15" fill="#DC143C"/>
<rect x="691" y="260" width="1" height="18" fill="#DC143C"/>
<rect x="689" y="270" width="5" height="5" fill="#DC143C"/>
<rect x="699" y="267" width="1" height="15" fill="#00FFFF"/>
<rect x="697" y="271" width="5" height="7" fill="#00FFFF"/>
<rect x="707" y="261" width="1" height="20" fill="#DC143C"/>
<rect x="705" y="262" width="5" height="17" fill="#DC143C"/>
<rect x="715" y="250" width="1" height="20" fill="#DC143C"/>
<rect x="713" y="253" width="5" height="10" fill="#DC143C"/>
<rect x="723" y="246" width="1" height="30" fill="#00FFFF"/>
<rect x="721" y="253" width="5" height="22" fill="#00FFFF"/>
<rect x="731" y="265" width="1" height="24" fill="#DC143C"/>
<rect x="729" y="272" width="5" height="3" fill="#DC143C"/>
<rect x="739" y="271" width="1" height="21" fill="#00FFFF"/>
<rect x="737" y="272" width="5" height="12" fill="#00FFFF"/>
<rect x="747" y="280" width="1" height="16" fill="#00FFFF"/>
<rect x="745" y="283" width="5" height="3" fill="#00FFFF"/>
<rect x="755" y="272" width="1" height="74" fill="#00FFFF"/>
<rect x="753" y="285" width="5" height="41" fill="#00FFFF"/>
<rect x="763" y="296" width="1" height="43" fill="#00FFFF"/>
<rect x="761" y="325" width="5" height="12" fill="#00FFFF"/>
<rect x="771" y="328" width="1" height="43" fill="#00FFFF"/>
<rect x="769" y="336" width="5" height="30" fill="#00FFFF"/>
<rect x="779" y="342" width="1" height="32" fill="#DC143C"/>
<rect x="777" y="360" width="5" height="7" fill="#DC143C"/>
<rect x="787" y="355" width="1" height="27" fill="#DC143C"/>
<rect x="785" y="359" width="5" height="1" fill="#DC143C"/>
<rect x="795" y="355" width="1" height="25" fill="#00FFFF"/>
<rect x="793" y="359" width="5" height="18" fill="#00FFFF"/>
<rect x="803" y="362" width="1" height="20" fill="#DC143C"/>
<rect x="801" y="364" width="5" height="13" fill="#DC143C"/>
<rect x="811" y="358" width="1" height="14" fill="#00FFFF"/>
<rect x="809" y="364" width="5" height="4" fill="#00FFFF"/>
<rect x="819" y="353" width="1" height="15" fill="#DC143C"/>
<rect x="817" y="354" width="5" height="14" fill="#DC143C"/>
<rect x="827" y="346" width="1" height="13" fill="#DC143C"/>
<rect x="825" y="354" width="5" height="1" fill="#DC143C"/>
<rect x="835" y="352" width="1" height="17" fill="#00FFFF"/>
<rect x="833" y="354" width="5" height="8" fill="#00FFFF"/>
<rect x="843" y="218" width="1" height="89" fill="#00FFFF"/>
<rect x="841" y="261" width="5" height="25" fill="#00FFFF"/>
<rect x="851" y="252" width="1" height="44" fill="#DC143C"/>
<rect x="849" y="258" width="5" height="28" fill="#DC143C"/>
<rect x="859" y="258" width="1" height="43" fill="#00FFFF"/>
<rect x="857" y="259" width="5" height="16" fill="#00FFFF"/>
<rect x="867" y="273" width="1" height="19" fill="#00FFFF"/>
<rect x="865" y="274" width="5" height="14" fill="#00FFFF"/>
<rect x="875" y="284" width="1" height="22" fill="#00FFFF"/>
<rect x="873" y="287" width="5" height="9" fill="#00FFFF"/>
<rect x="883" y="278" width="1" height="22" fill="#DC143C"/>
<rect x="881" y="281" width="5" height="15" fill="#DC143C"/>
<rect x="891" y="278" width="1" height="22" fill="#00FFFF"/>
<rect x="889" y="281" width="5" height="11" fill="#00FFFF"/>
<rect x="899" y="285" width="1" height="13" fill="#DC143C"/>
<rect x="897" y="290" width="5" height="2" fill="#DC143C"/>
<rect x="907" y="290" width="1" height="56" fill="#00FFFF"/>
<rect x="905" y="290" width="5" height="44" fill="#00FFFF"/>
<rect x="915" y="314" width="1" height="26" fill="#DC143C"/>
<rect x="913" y="320" width="5" height="14" fill="#DC143C"/>
<rect x="923" y="314" width="1" height="13" fill="#00FFFF"/>
<rect x="921" y="319" width="5" height="4" fill="#00FFFF"/>
<rect x="931" y="289" width="1" height="37" fill="#DC143C"/>
<rect x="929" y="298" width="5" height="25" fill="#DC143C"/>
<rect x="939" y="289" width="1" height="19" fill="#00FFFF"/>
<rect x="937" y="298" width="5" height="4" fill="#00FFFF"/>
<rect x="947" y="272" width="1" height="35" fill="#DC143C"/>
<rect x="945" y="274" width="5" height="28" fill="#DC143C"/>
<rect x="955" y="256" width="1" height="36" fill="#DC143C"/>
<rect x="953" y="260" width="5" height="14" fill="#DC143C"/>
<rect x="963" y="259" width="1" height="34" fill="#00FFFF"/>
<rect x="961" y="260" width="5" height="25" fill="#00FFFF"/>
<rect x="971" y="261" width="1" height="42" fill="#00FFFF"/>
<rect x="969" y="284" width="5" height="8" fill="#00FFFF"/>
<rect x="979" y="291" width="1" height="63" fill="#00FFFF"/>
<rect x="977" y="292" width="5" height="55" fill="#00FFFF"/>
<rect x="987" y="324" width="1" height="30" fill="#DC143C"/>
<rect x="985" y="324" width="5" height="23" fill="#DC143C"/>
<rect x="995" y="319" width="1" height="13" fill="#00FFFF"/>
<rect x="993" y="324" width="5" height="2" fill="#00FFFF"/>
<rect x="1003" y="298" width="1" height="31" fill="#DC143C"/>
<rect x="1001" y="298" width="5" height="28" fill="#DC143C"/>
<rect x="1011" y="285" width="1" height="20" fill="#DC143C"/>
<rect x="1009" y="286" width="5" height="13" fill="#DC143C"/>
<rect x="1019" y="282" width="1" height="15" fill="#00FFFF"/>
<rect x="1017" y="285" width="5" height="5" fill="#00FFFF"/>
<rect x="1027" y="290" width="1" height="11" fill="#00FFFF"/>
<rect x="1025" y="298" width="5" height="2" fill="#00FFFF"/>
<rect x="1035" y="293" width="1" height="11" fill="#00FFFF"/>
<rect x="1033" y="299" width="5" height="4" fill="#00FFFF"/>
<rect x="1043" y="300" width="1" height="12" fill="#00FFFF"/>
<rect x="1041" y="302" width="5" height="10" fill="#00FFFF"/>
<rect x="1051" y="308" width="1" height="9" fill="#DC143C"/>
<rect x="1049" y="309" width="5" height="3" fill="#DC143C"/>
<rect x="1059" y="301" width="1" height="11" fill="#DC143C"/>
<rect x="1057" y="301" width="5" height="9" fill="#DC143C"/>
<rect x="1067" y="298" width="1" height="8" fill="#00FFFF"/>
<rect x="1065" y="301" width="5" height="1" fill="#00FFFF"/>
<rect x="1075" y="294" width="1" height="11" fill="#DC143C"/>
<rect x="1073" y="296" width="5" height="6" fill="#DC143C"/>
<rect x="1083" y="290" width="1" height="15" fill="#DC143C"/>
<rect x="1081" y="293" width="5" height="3" fill="#DC143C"/>
<rect x="1091" y="292" width="1" height="7" fill="#00FFFF"/>
<rect x="1089" y="293" width="5" height="2" fill="#00FFFF"/>
<rect x="1099" y="271" width="1" height="25" fill="#DC143C"/>
<rect x="1097" y="277" width="5" height="17" fill="#DC143C"/>
<rect x="1107" y="255" width="1" height="23" fill="#DC143C"/>
<rect x="1105" y="263" width="5" height="14" fill="#DC143C"/>
<rect x="1115" y="231" width="1" height="36" fill="#DC143C"/>
<rect x="1113" y="232" width="5" height="32" fill="#DC143C"/>
<rect x="1123" y="228" width="1" height="22" fill="#00FFFF"/>
<rect x="1121" y="232" width="5" height="18" fill="#00FFFF"/>
<rect x="1131" y="237" width="1" height="45" fill="#00FFFF"/>
<rect x="1129" y="249" width="5" height="15" fill="#00FFFF"/>
<rect x="1139" y="243" width="1" height="35" fill="#DC143C"/>
<rect x="1137" y="261" width="5" height="3" fill="#DC143C"/>
<rect x="1147" y="226" width="1" height="38" fill="#DC143C"/>
<rect x="1145" y="236" width="5" height="28" fill="#DC143C"/>
<rect x="1155" y="215" width="1" height="43" fill="#DC143C"/>
<rect x="1153" y="227" width="5" height="10" fill="#DC143C"/>
<rect x="1163" y="197" width="1" height="43" fill="#DC143C"/>
<rect x="1161" y="210" width="5" height="18" fill="#DC143C"/>
<rect x="1171" y="195" width="1" height="22" fill="#DC143C"/>
<rect x="1169" y="198" width="5" height="12" fill="#DC143C"/>
<rect x="1179" y="170" width="1" height="29" fill="#DC143C"/>
<rect x="1177" y="172" width="5" height="27" fill="#DC143C"/>
<rect x="1187" y="171" width="1" height="21" fill="#00FFFF"/>
<rect x="1185" y="173" width="5" height="6" fill="#00FFFF"/>
<rect x="1195" y="156" width="1" height="27" fill="#DC143C"/>
<rect x="1193" y="160" width="5" height="19" fill="#DC143C"/>
<rect x="1203" y="143" width="1" height="36" fill="#00FFFF"/>
<rect x="1201" y="160" width="5" height="2" fill="#00FFFF"/>
<rect x="1211" y="160" width="1" height="13" fill="#00FFFF"/>
<rect x="1209" y="162" width="5" height="10" fill="#00FFFF"/>
<rect x="1219" y="166" width="1" height="32" fill="#00FFFF"/>
<rect x="1217" y="171" width="5" height="27" fill="#00FFFF"/>
<rect x="1227" y="193" width="1" height="19" fill="#DC143C"/>
<rect x="1225" y="195" width="5" height="1" fill="#DC143C"/>
<rect x="1235" y="177" width="1" height="23" fill="#DC143C"/>
<rect x="1233" y="186" width="5" height="10" fill="#DC143C"/>
<rect x="1243" y="185" width="1" height="18" fill="#00FFFF"/>
<rect x="1241" y="186" width="5" height="8" fill="#00FFFF"/>
<rect x="1251" y="188" width="1" height="8" fill="#DC143C"/>
<rect x="1249" y="193" width="5" height="2" fill="#DC143C"/>
<rect x="1259" y="186" width="1" height="18" fill="#00FFFF"/>
<rect x="1257" y="193" width="5" height="6" fill="#00FFFF"/>
<rect x="1267" y="179" width="1" height="29" fill="#DC143C"/>
<rect x="1265" y="188" width="5" height="11" fill="#DC143C"/>
<rect x="1275" y="151" width="1" height="45" fill="#DC143C"/>
<rect x="1273" y="162" width="5" height="25" fill="#DC143C"/>
<rect x="1283" y="162" width="1" height="40" fill="#00FFFF"/>
<rect x="1281" y="162" width="5" height="20" fill="#00FFFF"/>
<rect x="1291" y="179" width="1" height="31" fill="#00FFFF"/>
<rect x="1289" y="182" width="5" height="22" fill="#00FFFF"/>
<rect x="1299" y="195" width="1" height="78" fill="#00FFFF"/>
<rect x="1297" y="204" width="5" height="24" fill="#00FFFF"/>
<rect x="1307" y="210" width="1" height="22" fill="#DC143C"/>
<rect x="1305" y="217" width="5" height="11" fill="#DC143C"/>
<rect x="1315" y="216" width="1" height="22" fill="#00FFFF"/>
<rect x="1313" y="217" width="5" height="11" fill="#00FFFF"/>
<rect x="1323" y="199" width="1" height="41" fill="#DC143C"/>
<rect x="1321" y="208" width="5" height="20" fill="#DC143C"/>
<rect x="1331" y="197" width="1" height="45" fill="#00FFFF"/>
<rect x="1329" y="208" width="5" height="9" fill="#00FFFF"/>
<rect x="1339" y="195" width="1" height="45" fill="#00FFFF"/>
<rect x="1337" y="216" width="5" height="10" fill="#00FFFF"/>
<rect x="1347" y="222" width="1" height="42" fill="#00FFFF"/>
<rect x="1345" y="225" width="5" height="30" fill="#00FFFF"/>
<rect x="1355" y="243" width="1" height="26" fill="#00FFFF"/>
<rect x="1353" y="254" width="5" height="1" fill="#00FFFF"/>
<rect x="1363" y="244" width="1" height="17" fill="#DC143C"/>
<rect x="1361" y="248" width="5" height="8" fill="#DC143C"/>
<rect x="1371" y="220" width="1" height="31" fill="#DC143C"/>
<rect x="1369" y="222" width="5" height="27" fill="#DC143C"/>
<rect x="1379" y="203" width="1" height="31" fill="#00FFFF"/>
<rect x="1377" y="222" width="5" height="11" fill="#00FFFF"/>
<rect x="1387" y="219" width="1" height="14" fill="#DC143C"/>
<rect x="1385" y="219" width="5" height="14" fill="#DC143C"/>
<rect x="1395" y="213" width="1" height="8" fill="#00FFFF"/>
<rect x="1393" y="216" width="5" height="4" fill="#00FFFF"/>
<rect x="1403" y="213" width="1" height="9" fill="#DC143C"/>
<rect x="1401" y="218" width="5" height="1" fill="#DC143C"/>
<rect x="1411" y="212" width="1" height="17" fill="#DC143C"/>
<rect x="1409" y="213" width="5" height="5" fill="#DC143C"/>
<rect x="1419" y="212" width="1" height="12" fill="#00FFFF"/>
<rect x="1417" y="213" width="5" height="7" fill="#00FFFF"/>
<rect x="1427" y="212" width="1" height="15" fill="#00FFFF"/>
<rect x="1425" y="219" width="5" height="6" fill="#00FFFF"/>
<rect x="1435" y="224" width="1" height="14" fill="#00FFFF"/>
<rect x="1433" y="224" width="5" height="11" fill="#00FFFF"/>
<rect x="1443" y="227" width="1" height="17" fill="#DC143C"/>
<rect x="1441" y="232" width="5" height="3" fill="#DC143C"/>
<rect x="1451" y="216" width="1" height="17" fill="#DC143C"/>
<rect x="1449" y="223" width="5" height="10" fill="#DC143C"/>
<rect x="1459" y="207" width="1" height="26" fill="#DC143C"/>
<rect x="1457" y="207" width="5" height="17" fill="#DC143C"/>
<rect x="1467" y="197" width="1" height="24" fill="#00FFFF"/>
<rect x="1465" y="207" width="5" height="1" fill="#00FFFF"/>
<rect x="1475" y="208" width="1" height="30" fill="#00FFFF"/>
<rect x="1473" y="208" width="5" height="10" fill="#00FFFF"/>
<rect x="1483" y="195" width="1" height="23" fill="#DC143C"/>
<rect x="1481" y="200" width="5" height="18" fill="#DC143C"/>
</g>
<polygon points="493.8,272 542.75,180 564.25,140 582.1,106.8 578,104.3 593.8,95.5 593.8,113.2 590,111.1 582.4,125 572.75,140 566,150 560,160 554.5,170 549.25,180 538.9,197.4 498.2,272.3" fill="#FF1E10"/>
<g shape-rendering="crispEdges">
<rect x="3" y="521" width="1" height="12" fill="#008000"/>
<rect x="11" y="521" width="1" height="10" fill="#008000"/>
<rect x="19" y="521" width="1" height="6" fill="#008000"/>
<rect x="27" y="521" width="1" height="2" fill="#008000"/>
<rect x="35" y="521" width="1" height="2" fill="#008000"/>
<rect x="43" y="520" width="1" height="2" fill="#FF0000"/>
<rect x="51" y="520" width="1" height="2" fill="#FF0000"/>
<rect x="59" y="520" width="1" height="2" fill="#FF0000"/>
<rect x="67" y="520" width="1" height="2" fill="#FF0000"/>
<rect x="75" y="520" width="1" height="2" fill="#FF0000"/>
<rect x="83" y="520" width="1" height="2" fill="#FF0000"/>
<rect x="91" y="517" width="1" height="5" fill="#FF0000"/>
<rect x="99" y="516" width="1" height="6" fill="#FF0000"/>
<rect x="107" y="510" width="1" height="12" fill="#FF0000"/>
<rect x="115" y="508" width="1" height="14" fill="#FF0000"/>
<rect x="123" y="508" width="1" height="14" fill="#FF0000"/>
<rect x="131" y="509" width="1" height="13" fill="#FF0000"/>
<rect x="139" y="510" width="1" height="12" fill="#FF0000"/>
<rect x="147" y="513" width="1" height="9" fill="#FF0000"/>
<rect x="155" y="515" width="1" height="7" fill="#FF0000"/>
<rect x="163" y="517" width="1" height="5" fill="#FF0000"/>
<rect x="171" y="519" width="1" height="3" fill="#FF0000"/>
<rect x="179" y="521" width="1" height="7" fill="#008000"/>
<rect x="187" y="521" width="1" height="11" fill="#008000"/>
<rect x="195" y="521" width="1" height="15" fill="#008000"/>
<rect x="203" y="521" width="1" height="19" fill="#008000"/>
<rect x="211" y="521" width="1" height="18" fill="#008000"/>
<rect x="219" y="521" width="1" height="15" fill="#008000"/>
<rect x="227" y="521" width="1" height="12" fill="#008000"/>
<rect x="235" y="521" width="1" height="11" fill="#008000"/>
<rect x="243" y="521" width="1" height="6" fill="#008000"/>
<rect x="251" y="521" width="1" height="3" fill="#008000"/>
<rect x="267" y="520" width="1" height="2" fill="#FF0000"/>
<rect x="283" y="521" width="1" height="3" fill="#008000"/>
<rect x="291" y="521" width="1" height="3" fill="#008000"/>
<rect x="299" y="521" width="1" height="4" fill="#008000"/>
<rect x="307" y="521" width="1" height="5" fill="#008000"/>
<rect x="315" y="521" width="1" height="3" fill="#008000"/>
<rect x="323" y="521" width="1" height="4" fill="#008000"/>
<rect x="331" y="521" width="1" height="4" fill="#008000"/>
<rect x="339" y="521" width="1" height="5" fill="#008000"/>
<rect x="347" y="521" width="1" height="6" fill="#008000"/>
<rect x="355" y="521" width="1" height="6" fill="#008000"/>
<rect x="363" y="521" width="1" height="6" fill="#008000"/>
<rect x="371" y="521" width="1" height="6" fill="#008000"/>
<rect x="379" y="521" width="1" height="6" fill="#008000"/>
<rect x="387" y="521" width="1" height="5" fill="#008000"/>
<rect x="395" y="521" width="1" height="2" fill="#008000"/>
<rect x="403" y="519" width="1" height="3" fill="#FF0000"/>
<rect x="411" y="514" width="1" height="8" fill="#FF0000"/>
<rect x="419" y="509" width="1" height="13" fill="#FF0000"/>
<rect x="427" y="506" width="1" height="16" fill="#FF0000"/>
<rect x="435" y="505" width="1" height="17" fill="#FF0000"/>
<rect x="443" y="505" width="1" height="17" fill="#FF0000"/>
<rect x="451" y="507" width="1" height="15" fill="#FF0000"/>
<rect x="459" y="509" width="1" height="13" fill="#FF0000"/>
<rect x="467" y="511" width="1" height="11" fill="#FF0000"/>
<rect x="475" y="511" width="1" height="11" fill="#FF0000"/>
<rect x="483" y="512" width="1" height="10" fill="#FF0000"/>
<rect x="491" y="513" width="1" height="9" fill="#FF0000"/>
<rect x="499" y="510" width="1" height="12" fill="#FF0000"/>
<rect x="507" y="503" width="1" height="19" fill="#FF0000"/>
<rect x="515" y="497" width="1" height="25" fill="#FF0000"/>
<rect x="523" y="492" width="1" height="30" fill="#FF0000"/>
<rect x="531" y="490" width="1" height="32" fill="#FF0000"/>
<rect x="539" y="486" width="1" height="36" fill="#FF0000"/>
<rect x="547" y="489" width="1" height="33" fill="#FF0000"/>
<rect x="555" y="489" width="1" height="33" fill="#FF0000"/>
<rect x="563" y="480" width="1" height="42" fill="#FF0000"/>
<rect x="571" y="484" width="1" height="38" fill="#FF0000"/>
<rect x="579" y="489" width="1" height="33" fill="#FF0000"/>
<rect x="587" y="498" width="1" height="24" fill="#FF0000"/>
<rect x="595" y="519" width="1" height="3" fill="#FF0000"/>
<rect x="603" y="521" width="1" height="18" fill="#008000"/>
<rect x="611" y="521" width="1" height="36" fill="#008000"/>
<rect x="619" y="521" width="1" height="47" fill="#008000"/>
<rect x="627" y="521" width="1" height="55" fill="#008000"/>
<rect x="635" y="521" width="1" height="75" fill="#008000"/>
<rect x="643" y="521" width="1" height="78" fill="#008000"/>
<rect x="651" y="521" width="1" height="73" fill="#008000"/>
<rect x="659" y="521" width="1" height="63" fill="#008000"/>
<rect x="667" y="521" width="1" height="49" fill="#008000"/>
<rect x="675" y="521" width="1" height="38" fill="#008000"/>
<rect x="683" y="521" width="1" height="26" fill="#008000"/>
<rect x="691" y="521" width="1" height="14" fill="#008000"/>
<rect x="699" y="521" width="1" height="6" fill="#008000"/>
<rect x="707" y="520" width="1" height="2" fill="#FF0000"/>
<rect x="715" y="515" width="1" height="7" fill="#FF0000"/>
<rect x="723" y="515" width="1" height="7" fill="#FF0000"/>
<rect x="731" y="515" width="1" height="7" fill="#FF0000"/>
<rect x="739" y="517" width="1" height="5" fill="#FF0000"/>
<rect x="747" y="519" width="1" height="3" fill="#FF0000"/>
<rect x="755" y="521" width="1" height="6" fill="#008000"/>
<rect x="763" y="521" width="1" height="12" fill="#008000"/>
<rect x="771" y="521" width="1" height="21" fill="#008000"/>
<rect x="779" y="521" width="1" height="23" fill="#008000"/>
<rect x="787" y="521" width="1" height="24" fill="#008000"/>
<rect x="795" y="521" width="1" height="25" fill="#008000"/>
<rect x="803" y="521" width="1" height="21" fill="#008000"/>
<rect x="811" y="521" width="1" height="18" fill="#008000"/>
<rect x="819" y="521" width="1" height="11" fill="#008000"/>
<rect x="827" y="521" width="1" height="5" fill="#008000"/>
<rect x="843" y="507" width="1" height="15" fill="#FF0000"/>
<rect x="851" y="492" width="1" height="30" fill="#FF0000"/>
<rect x="859" y="486" width="1" height="36" fill="#FF0000"/>
<rect x="867" y="485" width="1" height="37" fill="#FF0000"/>
<rect x="875" y="488" width="1" height="34" fill="#FF0000"/>
<rect x="883" y="490" width="1" height="32" fill="#FF0000"/>
<rect x="891" y="494" width="1" height="28" fill="#FF0000"/>
<rect x="899" y="499" width="1" height="23" fill="#FF0000"/>
<rect x="907" y="512" width="1" height="10" fill="#FF0000"/>
<rect x="915" y="518" width="1" height="4" fill="#FF0000"/>
<rect x="923" y="521" width="1" height="2" fill="#008000"/>
<rect x="939" y="520" width="1" height="2" fill="#FF0000"/>
<rect x="947" y="516" width="1" height="6" fill="#FF0000"/>
<rect x="955" y="510" width="1" height="12" fill="#FF0000"/>
<rect x="963" y="510" width="1" height="12" fill="#FF0000"/>
<rect x="971" y="512" width="1" height="10" fill="#FF0000"/>
<rect x="987" y="521" width="1" height="5" fill="#008000"/>
<rect x="995" y="521" width="1" height="8" fill="#008000"/>
<rect x="1003" y="521" width="1" height="6" fill="#008000"/>
<rect x="1011" y="521" width="1" height="3" fill="#008000"/>
<rect x="1067" y="520" width="1" height="2" fill="#FF0000"/>
<rect x="1075" y="520" width="1" height="2" fill="#FF0000"/>
<rect x="1083" y="520" width="1" height="2" fill="#FF0000"/>
<rect x="1091" y="520" width="1" height="2" fill="#FF0000"/>
<rect x="1099" y="517" width="1" height="5" fill="#FF0000"/>
<rect x="1107" y="512" width="1" height="10" fill="#FF0000"/>
<rect x="1115" y="505" width="1" height="17" fill="#FF0000"/>
<rect x="1123" y="504" width="1" height="18" fill="#FF0000"/>
<rect x="1131" y="506" width="1" height="16" fill="#FF0000"/>
<rect x="1139" y="510" width="1" height="12" fill="#FF0000"/>
<rect x="1147" y="508" width="1" height="14" fill="#FF0000"/>
<rect x="1155" y="507" width="1" height="15" fill="#FF0000"/>
<rect x="1163" y="505" width="1" height="17" fill="#FF0000"/>
<rect x="1171" y="503" width="1" height="19" fill="#FF0000"/>
<rect x="1179" y="499" width="1" height="23" fill="#FF0000"/>
<rect x="1187" y="498" width="1" height="24" fill="#FF0000"/>
<rect x="1195" y="496" width="1" height="26" fill="#FF0000"/>
<rect x="1203" y="497" width="1" height="25" fill="#FF0000"/>
<rect x="1211" y="502" width="1" height="20" fill="#FF0000"/>
<rect x="1219" y="511" width="1" height="11" fill="#FF0000"/>
<rect x="1227" y="519" width="1" height="3" fill="#FF0000"/>
<rect x="1235" y="521" width="1" height="2" fill="#008000"/>
<rect x="1243" y="521" width="1" height="8" fill="#008000"/>
<rect x="1251" y="521" width="1" height="11" fill="#008000"/>
<rect x="1259" y="521" width="1" height="14" fill="#008000"/>
<rect x="1267" y="521" width="1" height="14" fill="#008000"/>
<rect x="1275" y="521" width="1" height="9" fill="#008000"/>
<rect x="1283" y="521" width="1" height="9" fill="#008000"/>
<rect x="1291" y="521" width="1" height="12" fill="#008000"/>
<rect x="1299" y="521" width="1" height="18" fill="#008000"/>
<rect x="1307" y="521" width="1" height="20" fill="#008000"/>
<rect x="1315" y="521" width="1" height="22" fill="#008000"/>
<rect x="1323" y="521" width="1" height="21" fill="#008000"/>
<rect x="1331" y="521" width="1" height="20" fill="#008000"/>
<rect x="1339" y="521" width="1" height="20" fill="#008000"/>
<rect x="1347" y="521" width="1" height="22" fill="#008000"/>
<rect x="1355" y="521" width="1" height="24" fill="#008000"/>
<rect x="1363" y="521" width="1" height="22" fill="#008000"/>
<rect x="1371" y="521" width="1" height="16" fill="#008000"/>
<rect x="1379" y="521" width="1" height="12" fill="#008000"/>
<rect x="1387" y="521" width="1" height="7" fill="#008000"/>
<rect x="1395" y="521" width="1" height="4" fill="#008000"/>
<rect x="1403" y="520" width="1" height="2" fill="#FF0000"/>
<rect x="1411" y="518" width="1" height="4" fill="#FF0000"/>
<rect x="1419" y="517" width="1" height="5" fill="#FF0000"/>
<rect x="1427" y="518" width="1" height="4" fill="#FF0000"/>
<rect x="1435" y="520" width="1" height="2" fill="#FF0000"/>
<rect x="1459" y="519" width="1" height="3" fill="#FF0000"/>
<rect x="1467" y="518" width="1" height="4" fill="#FF0000"/>
<rect x="1475" y="518" width="1" height="4" fill="#FF0000"/>
<rect x="1483" y="516" width="1" height="6" fill="#FF0000"/>
</g>
<polyline points="3.2,519.3 14.4,519.3 24.0,517.3 35.2,517.3 48.0,516.8 83.3,516.1 96.1,510.8 112.1,503.3 128.1,499.2 136.2,497.6 152.2,496.4 168.2,496.4 173.0,498.0 181.0,504.9 192.2,509.2 203.4,517.3 208.2,518.1 230.7,518.4 235.5,520.5 243.5,519.7 248.3,518.1 256.3,518.1 272.3,518.9 278.7,520.1 290.0,522.5 322.0,523.3 338.0,525.7 362.0,530.5 370.0,531.3 389.3,531.3 402.1,527.6 418.1,518.5 434.2,511.3 450.2,508.1 466.2,505.7 477.4,504.1 482.2,501.7 493.4,499.3 498.2,496.6 506.2,489.7 519.1,475.3 530.3,465.7 541.5,458.1 549.5,453.6 555.9,448.8 562.3,435.2 570.3,430.9 578.3,427.2 584.7,427.7 594.0,437.7 603.0,453.5 612.0,470.3 625.4,490.5 634.4,514.1 643.4,532.1 652.4,541.1 661.4,545.6 674.9,548.3 686.1,546.7 699.6,545.1 715.3,539.3 731.1,538.4 746.8,540.7 762.5,550.5 771.5,560.2 787.2,568.1 798.5,573.7 809.7,575.3 823.2,572.1 834.4,569.2 843.4,556.8 854.7,540.0 865.9,532.1 877.1,527.6 889.6,523.0 898.4,520.1 907.2,524.1 916.8,526.5 924.8,527.3 932.9,524.9 944.1,520.9 953.7,515.0 963.3,513.4 971.3,513.4 977.7,519.8 987.3,524.1 995.3,526.5 1004.9,523.3 1014.5,520.1 1021.0,520.1 1029.0,519.3 1037.0,519.3 1041.8,520.4 1056.2,521.7 1080.2,520.1 1088.2,518.5 1096.2,516.6 1107.5,511.3 1117.1,504.1 1128.3,500.5 1139.5,500.5 1152.3,494.1 1168.3,484.9 1175.0,479.9 1183.4,473.5 1191.8,468.5 1200.2,464.8 1208.6,463.1 1213.7,463.5 1222.1,468.2 1228.8,470.5 1242.3,475.2 1259.1,481.1 1267.5,483.3 1275.9,481.1 1284.3,483.3 1292.7,489.5 1301.1,497.1 1314.6,504.7 1326.4,508.0 1334.8,510.5 1343.2,515.6 1351.6,523.2 1363.4,528.2 1376.8,527.4 1385.2,527.0 1398.7,524.0 1410.5,522.3 1418.9,521.5 1430.6,522.7 1444.1,523.7 1452.5,524.0 1460.9,520.6 1474.4,519.3 1483.6,516.4" stroke="#00FFFF" fill="none" stroke-width="1" stroke-linejoin="miter" shape-rendering="crispEdges"/>
<polyline points="3.2,510.8 16.0,512.4 27.2,514.0 35.2,516.5 83.3,516.5 104.1,514.5 128.1,508.4 152.2,502.8 173.0,498.8 187.4,499.2 200.2,501.7 224.3,509.2 245.1,515.7 256.3,517.3 269.1,518.5 288.3,519.3 314.0,520.1 338.0,522.5 370.0,526.5 386.1,528.6 418.1,528.9 434.2,524.9 450.2,520.1 466.2,513.7 482.2,508.1 506.2,502.5 522.3,495.3 538.3,484.9 554.3,473.7 570.3,460.8 581.5,451.2 585.0,447.8 596.2,443.3 609.7,443.3 625.4,450.8 636.7,462.0 652.4,486.0 665.9,508.5 679.4,524.2 692.9,536.6 704.1,543.3 737.8,543.3 764.8,542.2 787.2,547.8 809.7,558.0 827.7,567.6 843.4,570.3 859.2,563.6 877.1,552.3 880.0,550.5 896.0,539.0 908.8,531.3 920.0,526.5 944.1,523.6 960.1,521.4 979.3,519.8 1011.3,519.3 1019.4,518.8 1037.0,521.7 1059.4,521.7 1080.2,520.1 1107.5,519.3 1120.3,515.3 1136.3,510.5 1152.3,504.9 1168.3,498.5 1175.0,495.7 1191.8,487.8 1208.6,479.4 1225.5,472.7 1237.2,469.8 1250.7,470.2 1267.5,472.7 1284.3,477.7 1301.1,483.6 1318.0,489.5 1334.8,497.1 1351.6,506.3 1368.4,514.7 1385.2,520.6 1402.0,524.0 1427.3,524.8 1452.5,524.0 1469.3,522.3 1483.6,522.0" fill="none" stroke="#FF0000" stroke-width="2" stroke-linejoin="round" shape-rendering="crispEdges"/>
<g shape-rendering="crispEdges">
<line x1="3" y1="649.5" x2="1870" y2="649.5" stroke="#C0C0C0" stroke-width="1" stroke-dasharray="3,3"/>
<line x1="3" y1="763.5" x2="1870" y2="763.5" stroke="#C0C0C0" stroke-width="1" stroke-dasharray="3,3"/>
</g>
<polyline points="3.5,764.8 11.5,720.2 19.5,675.7 27.5,639.2 35.5,652.3 43.5,653.4 51.5,673.5 59.5,685.2 67.5,709.6 75.5,697.9 83.5,667.2 91.5,623.7 99.5,623.7 107.5,641.7 115.5,658.7 123.5,665.0 131.5,671.4 139.5,684.1 147.5,712.8 155.5,715.5 163.5,693.7 171.5,690.5 179.5,763.1 187.5,770.1 195.5,773.3 203.5,770.1 211.5,759.5 219.5,724.5 227.5,692.6 235.5,688.8 243.5,691.6 251.5,686.7 259.5,665.5 267.5,668.2 275.5,685.2 283.5,722.3 291.5,762.6 299.5,765.5 307.5,762.6 315.5,733.0 323.5,725.5 331.5,729.8 339.5,747.8 347.5,741.0 355.5,739.3 363.5,746.7 371.5,750.3 379.5,726.6 387.5,699.0 395.5,675.7 403.5,662.9 411.5,635.8 419.5,630.0 427.5,618.4 435.5,626.9 443.5,632.2 451.5,654.4 459.5,662.9 467.5,672.5 475.5,648.0 483.5,633.2 491.5,621.5 499.5,615.2 507.5,621.5 515.5,649.1 523.5,657.0 531.5,659.1 539.5,646.4 547.5,644.3 555.5,635.3 563.5,625.8 571.5,637.5 579.5,655.5 587.5,684.1 595.5,718.0 603.5,741.4 611.5,768.0 619.5,763.1 627.5,771.1 635.5,770.1 643.5,760.5 651.5,739.3 659.5,709.6 667.5,679.9 675.5,669.3 683.5,660.4 691.5,673.5 699.5,687.3 707.5,692.2 715.5,676.1 723.5,679.9 731.5,697.9 739.5,748.9 747.5,753.1 755.5,762.6 763.5,764.8 771.5,775.4 779.5,781.3 787.5,775.4 795.5,774.3 803.5,766.9 811.5,763.1 819.5,705.4 827.5,673.5 835.5,656.6 843.5,687.3 851.5,680.3 859.5,680.3 867.5,681.6 875.5,708.5 883.5,726.6 891.5,752.5 899.5,728.3 907.5,751.0 915.5,742.5 923.5,743.6 931.5,708.5 939.5,684.1 947.5,641.7 955.5,630.7 963.5,639.6 971.5,675.7 979.5,743.6 987.5,761.6 995.5,759.5 1003.5,726.6 1011.5,694.7 1019.5,650.2 1027.5,637.0 1035.5,665.0 1043.5,701.1 1051.5,739.3 1059.5,751.0 1067.5,707.5 1075.5,668.2 1083.5,649.1 1091.5,637.0 1099.5,640.6 1107.5,643.8 1115.5,629.4 1123.5,639.6 1131.5,660.8 1139.5,701.1 1147.5,696.9 1155.5,665.0 1163.5,643.8 1171.5,633.2 1179.5,624.3 1187.5,621.5 1195.5,622.2 1203.5,633.2 1211.5,654.4 1219.5,713.9 1227.5,752.0 1235.5,758.0 1243.5,743.6 1251.5,730.8 1259.5,728.7 1267.5,710.7 1275.5,676.7 1283.5,678.2 1291.5,711.7 1299.5,739.3 1307.5,734.7 1315.5,724.5 1323.5,707.5 1331.5,691.6 1339.5,683.1 1347.5,705.4 1355.5,760.6 1363.5,763.1 1371.5,735.1 1379.5,711.7 1387.5,679.9 1395.5,673.5 1403.5,664.6 1411.5,667.6 1419.5,672.5 1427.5,692.6 1435.5,735.1 1443.5,753.1 1451.5,728.7 1459.5,673.5 1467.5,650.6 1475.5,659.8 1483.5,663.4" stroke="#20B2AA" fill="none" stroke-width="1" stroke-linejoin="miter" shape-rendering="crispEdges"/>
<polyline points="3.5,769.0 11.5,756.3 19.5,722.3 27.5,682.0 35.5,655.5 43.5,648.0 51.5,658.7 59.5,672.5 67.5,688.4 75.5,696.4 83.5,687.3 91.5,660.8 99.5,634.3 107.5,628.5 115.5,641.7 123.5,653.4 131.5,662.9 139.5,672.5 147.5,689.4 155.5,703.2 163.5,707.5 171.5,701.1 179.5,718.1 187.5,741.4 195.5,763.7 203.5,770.1 211.5,766.5 219.5,754.2 227.5,730.8 235.5,706.4 243.5,692.6 251.5,687.3 259.5,679.9 267.5,673.5 275.5,672.5 283.5,690.5 291.5,722.3 299.5,748.8 307.5,761.6 315.5,751.0 323.5,739.3 331.5,729.8 339.5,735.0 347.5,739.3 355.5,741.9 363.5,743.1 371.5,745.7 379.5,740.4 387.5,725.5 395.5,701.1 403.5,679.9 411.5,659.7 419.5,643.8 427.5,630.0 435.5,625.8 443.5,626.4 451.5,638.5 459.5,651.3 467.5,662.9 475.5,659.7 483.5,649.1 491.5,633.2 499.5,623.7 507.5,621.5 515.5,631.1 523.5,643.8 531.5,654.4 539.5,653.4 547.5,649.1 555.5,641.7 563.5,635.3 571.5,633.2 579.5,641.7 587.5,660.8 595.5,685.0 603.5,716.0 611.5,743.6 619.5,758.4 627.5,767.3 635.5,768.0 643.5,766.5 651.5,756.3 659.5,737.2 667.5,713.8 675.5,690.5 683.5,671.4 691.5,668.2 699.5,673.5 707.5,684.1 715.5,685.2 723.5,682.0 731.5,686.3 739.5,707.5 747.5,730.8 755.5,749.9 763.5,759.5 771.5,766.9 779.5,775.4 787.5,778.6 795.5,776.4 803.5,772.2 811.5,765.8 819.5,747.8 827.5,720.2 835.5,684.1 843.5,673.5 851.5,674.6 859.5,679.9 867.5,682.0 875.5,692.6 883.5,707.5 891.5,726.6 899.5,735.1 907.5,744.6 915.5,740.4 923.5,744.6 931.5,732.9 939.5,711.7 947.5,682.0 955.5,652.3 963.5,640.6 971.5,651.3 979.5,690.5 987.5,729.8 995.5,754.2 1003.5,748.9 1011.5,722.3 1019.5,688.4 1027.5,658.7 1035.5,649.1 1043.5,670.3 1051.5,703.2 1059.5,730.8 1067.5,734.0 1075.5,708.5 1083.5,675.7 1091.5,651.3 1099.5,642.8 1107.5,641.3 1115.5,638.5 1123.5,639.2 1131.5,646.0 1139.5,665.0 1147.5,685.2 1155.5,690.5 1163.5,675.7 1171.5,651.3 1179.5,635.3 1187.5,626.6 1195.5,622.2 1203.5,626.9 1211.5,638.5 1219.5,667.2 1227.5,707.5 1235.5,739.3 1243.5,747.8 1251.5,743.2 1259.5,730.8 1267.5,720.2 1275.5,705.4 1283.5,688.4 1291.5,691.6 1299.5,711.7 1307.5,728.7 1315.5,731.9 1323.5,720.2 1331.5,707.5 1339.5,694.3 1347.5,696.9 1355.5,722.3 1363.5,747.8 1371.5,752.0 1379.5,737.2 1387.5,711.7 1395.5,688.4 1403.5,672.5 1411.5,669.7 1419.5,669.3 1427.5,679.9 1435.5,703.2 1443.5,728.7 1451.5,737.2 1459.5,718.1 1467.5,684.1 1475.5,662.9 1483.5,658.0" stroke="#FF0000" fill="none" stroke-width="1" stroke-linejoin="miter" stroke-dasharray="3,3" shape-rendering="crispEdges"/>
<g shape-rendering="crispEdges" fill="#FFFFFF">
<rect x="2" y="31" width="1869" height="1"/>
<rect x="2" y="415" width="1869" height="1"/>
<rect x="2" y="31" width="1" height="385"/>
<rect x="1870" y="31" width="1" height="385"/>
<rect x="2" y="417" width="1869" height="1"/>
<rect x="2" y="608" width="1869" height="1"/>
<rect x="2" y="417" width="1" height="192"/>
<rect x="1870" y="417" width="1" height="192"/>
<rect x="2" y="610" width="1869" height="1"/>
<rect x="2" y="610" width="1" height="192"/>
<rect x="1870" y="610" width="1" height="192"/>
<rect x="1871" y="49" width="2" height="1"/>
<rect x="1871" y="82" width="2" height="1"/>
<rect x="1871" y="115" width="2" height="1"/>
<rect x="1871" y="148" width="2" height="1"/>
<rect x="1871" y="181" width="2" height="1"/>
<rect x="1871" y="214" width="2" height="1"/>
<rect x="1871" y="247" width="2" height="1"/>
<rect x="1871" y="280" width="2" height="1"/>
<rect x="1871" y="314" width="2" height="1"/>
<rect x="1871" y="347" width="2" height="1"/>
<rect x="1871" y="380" width="2" height="1"/>
<rect x="1871" y="413" width="2" height="1"/>
<rect x="1871" y="419" width="2" height="1"/>
<rect x="1871" y="521" width="2" height="1"/>
<rect x="1871" y="607" width="2" height="1"/>
<rect x="1871" y="612" width="2" height="1"/>
<rect x="1871" y="649" width="2" height="1"/>
<rect x="1871" y="763" width="2" height="1"/>
<rect x="1872" y="195" width="1" height="11"/>
</g>
<polygon points="1490.5,32 1500.5,32 1495.5,37" fill="#778899"/>
<text x="7" y="43" font-family="Liberation Sans, DejaVu Sans, sans-serif" fill="#FFFFFF" xml:space="preserve" style="white-space:pre" font-size="9.4" textLength="209.5" lengthAdjust="spacingAndGlyphs">XAUUSD.E,H1  1929.16 1935.52 1929.16 1934.32</text>
<text x="7.5" y="430" font-family="Liberation Sans, DejaVu Sans, sans-serif" fill="#FFFFFF" xml:space="preserve" style="white-space:pre" font-size="9.4" textLength="172.5" lengthAdjust="spacingAndGlyphs">MACD(12,26,9) 0.717 -0.054 1.002 0.000</text>
<text x="7" y="623.5" font-family="Liberation Sans, DejaVu Sans, sans-serif" fill="#FFFFFF" xml:space="preserve" style="white-space:pre" font-size="9.4" textLength="121.6" lengthAdjust="spacingAndGlyphs">Stoch(5,3,3) 72.7943 75.5817</text>
</svg>
</body></html>
